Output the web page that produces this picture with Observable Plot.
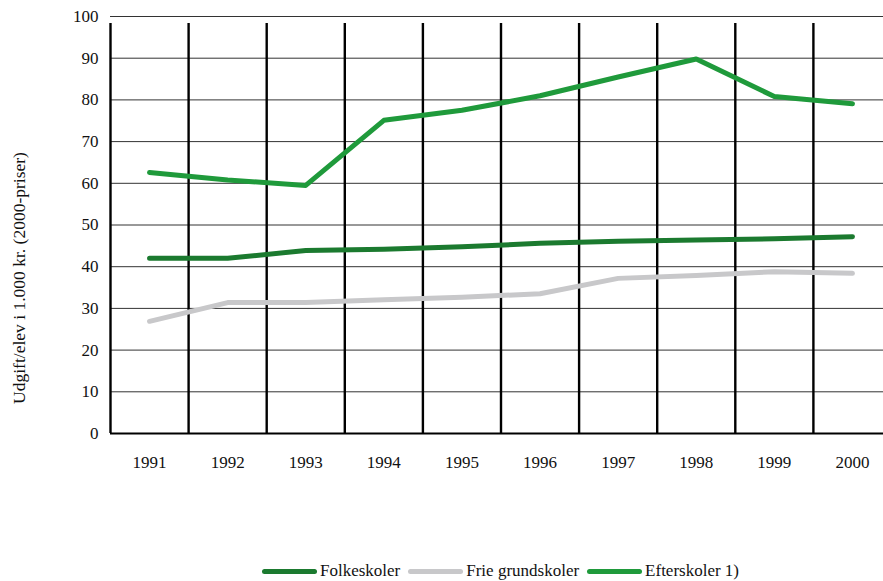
<!DOCTYPE html>
<html>
<head>
<meta charset="utf-8">
<script src="https://cdn.jsdelivr.net/npm/d3@7"></script>
<script src="https://cdn.jsdelivr.net/npm/@observablehq/plot@0.6"></script>
<style>
  html, body { margin: 0; padding: 0; background: #fff; overflow: hidden; }
  #wrap { position: relative; width: 883px; height: 581px; font-family: "Liberation Serif", "DejaVu Serif", serif; }
  #legend { position: absolute; left: 110px; width: 781px; top: 561px; display: flex; justify-content: center; align-items: center; font-family: "Liberation Serif", serif; font-size: 17px; color: #111; }
  .item { display: flex; align-items: center; margin: 0 4px; }
  .sw { width: 55px; height: 5px; border-radius: 3px; margin-right: 3px; }
  #chart svg g[aria-label="x-axis tick label"] text, #chart svg g[aria-label="y-axis tick label"] text { font-size: 17px; }
</style>
</head>
<body>
<div id="wrap"><div id="chart"></div><div id="legend"></div></div>
<script>
const years = [1991, 1992, 1993, 1994, 1995, 1996, 1997, 1998, 1999, 2000];
const folkeskoler = [42.0, 42.0, 43.9, 44.2, 44.8, 45.6, 46.1, 46.4, 46.7, 47.2];
const frieGrundskoler = [26.9, 31.4, 31.4, 32.1, 32.7, 33.5, 37.2, 37.9, 38.8, 38.4];
const efterskoler = [62.6, 60.8, 59.5, 75.1, 77.5, 81.0, 85.5, 89.8, 80.8, 79.1];
const yTicks = [0, 10, 20, 30, 40, 50, 60, 70, 80, 90, 100];
const seriesNames = ["Folkeskoler", "Frie grundskoler", "Efterskoler 1)"];
const seriesColors = ["#1b7a2f", "#c8c8ca", "#1f9a3b"];
const yLabel = "Udgift/elev i 1.000 kr. (2000-priser)";

const seriesValues = [folkeskoler, frieGrundskoler, efterskoler];
const rows = [];
seriesNames.forEach((s, i) => years.forEach((yr, j) => rows.push({series: s, year: yr, value: seriesValues[i][j]})));
const boundaries = years.map(y => y - 0.5);

const chart = Plot.plot({
  width: 883,
  height: 475,
  marginLeft: 110,
  marginRight: -8,
  marginTop: 16,
  marginBottom: 42,
  style: {fontFamily: "'Liberation Serif', 'DejaVu Serif', serif", fontSize: "17px", color: "#111", background: "#fff"},
  x: {domain: [years[0] - 0.5, years[years.length - 1] + 0.5], range: [110, 891]},
  y: {domain: [0, 100]},
  color: {domain: seriesNames, range: seriesColors},
  marks: [
    Plot.ruleY(yTicks.filter(d => d > 0), {stroke: "#333", strokeWidth: 1}),
    Plot.ruleX(boundaries, {y1: 0, y2: 100, stroke: "#000", strokeWidth: 2.4, insetBottom: -7}),
    Plot.ruleY([0], {stroke: "#000", strokeWidth: 2.2}),
    Plot.line(rows, {x: "year", y: "value", z: "series", stroke: "series", strokeWidth: 5, strokeLinecap: "round", strokeLinejoin: "round"}),
    Plot.axisY(yTicks, {tickSize: 0, tickPadding: 12, label: null, fontSize: 17}),
    Plot.axisX(years, {tickSize: 0, tickPadding: 22, label: null, tickFormat: d => String(d), fontSize: 17}),
    Plot.text([yLabel], {frameAnchor: "left", dx: -91, dy: 53, rotate: -90, fontSize: 17.5, textAnchor: "middle"})
  ]
});
document.getElementById("chart").appendChild(chart);

const legend = document.getElementById("legend");
seriesNames.forEach((s, i) => {
  const it = document.createElement("div");
  it.className = "item";
  const sw = document.createElement("div");
  sw.className = "sw";
  sw.style.background = seriesColors[i];
  const t = document.createElement("span");
  t.textContent = s;
  it.appendChild(sw); it.appendChild(t);
  legend.appendChild(it);
});
</script>
</body>
</html>
